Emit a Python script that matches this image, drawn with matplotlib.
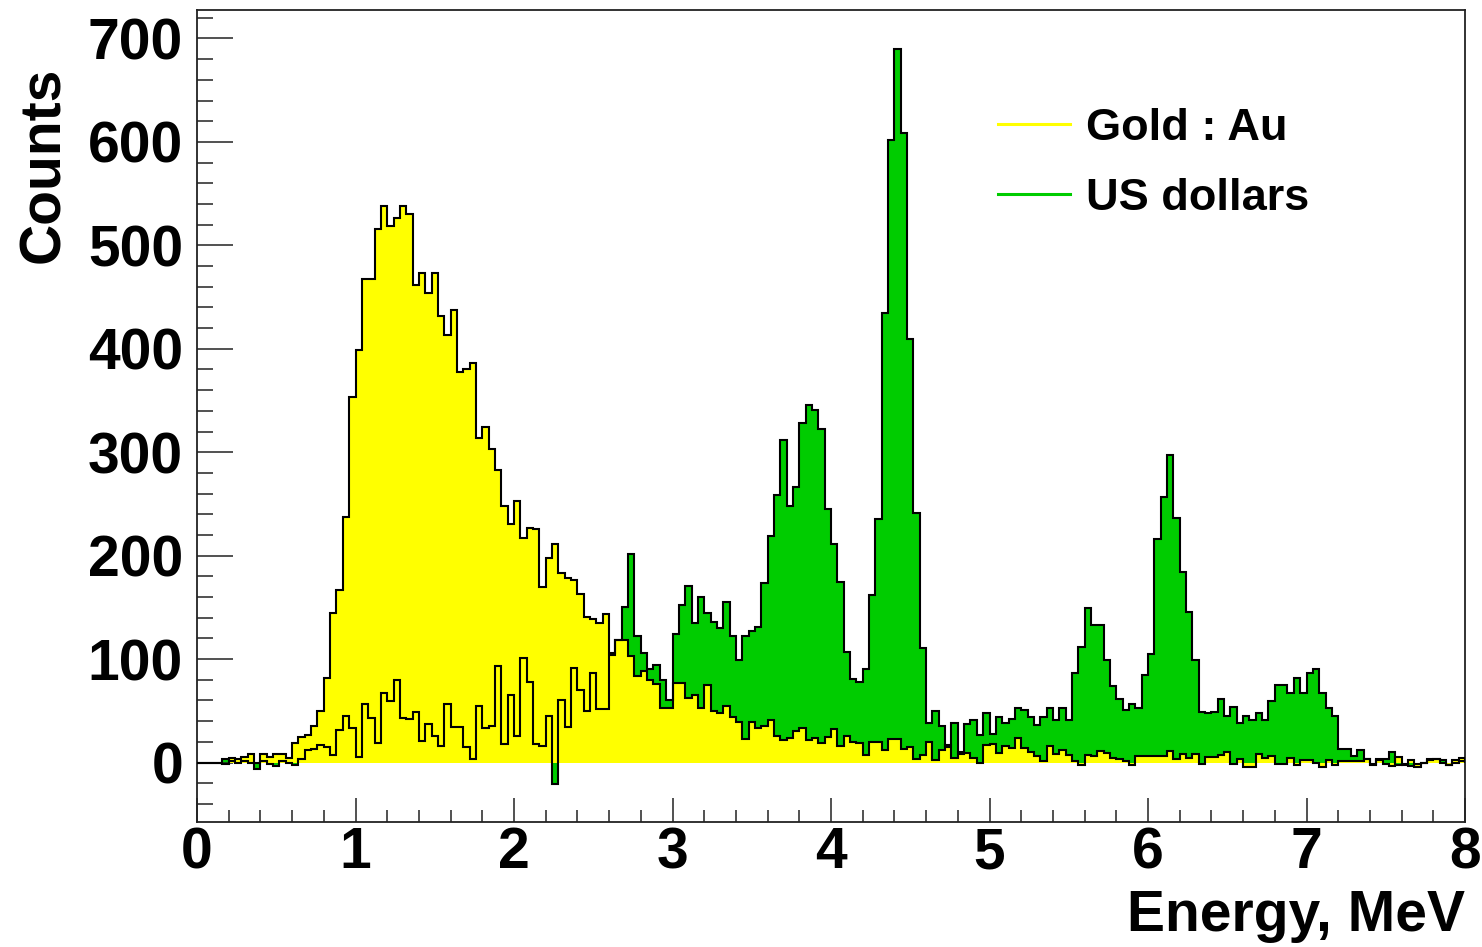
import numpy as np
import matplotlib.pyplot as plt
from matplotlib.lines import Line2D
from matplotlib.ticker import MultipleLocator

# Energy bins: 200 bins of 0.04 MeV between 0 and 8 MeV
bin_edges = np.linspace(0, 8, 201)

# Counts per bin for gold
gold_counts = [
    0, 0, 0, 0, -1, 4, 3, 5, 8, 0,
    8, 5, 8, 8, 4, 19, 25, 27, 35, 50,
    82, 145, 167, 237, 353, 399, 467, 467, 516, 538,
    519, 526, 538, 530, 462, 473, 454, 473, 432, 413,
    437, 378, 380, 386, 314, 324, 303, 283, 248, 231,
    253, 217, 227, 226, 170, 198, 211, 183, 178, 176,
    163, 141, 139, 135, 144, 106, 118, 118, 103, 84,
    88, 80, 76, 53, 53, 77, 77, 62, 65, 53,
    75, 50, 48, 55, 44, 39, 23, 39, 33, 35,
    41, 26, 22, 24, 30, 33, 22, 24, 19, 25,
    32, 16, 26, 20, 19, 7, 20, 20, 12, 23,
    23, 13, 15, 3, 7, 20, 2, 12, 17, 4,
    10, 9, 4, 0, 17, 18, 9, 16, 14, 24,
    14, 10, 6, 1, 16, 8, 12, 7, 1, -2,
    7, 6, 11, 9, 4, 3, 1, -2, 6, 6,
    6, 6, 6, 11, 3, 8, 4, 8, -1, 5,
    5, 7, 10, -1, 3, -4, -4, 8, 4, 6,
    -1, -1, 4, -2, 2, 2, 0, -4, 2, -2,
    1, 1, 1, 1, 3, -2, 2, -1, -3, 5,
    -2, 2, -4, 0, 3, 3, 0, -2, 2, 4,
]

# Counts per bin for US dollars
dollar_counts = [
    0, 0, 0, 0, 3, 1, 0, 1, 0, -6,
    1, -1, -3, 1, 0, -2, 3, 12, 13, 17,
    15, 7, 31, 45, 33, 5, 57, 43, 19, 67,
    59, 80, 43, 42, 49, 21, 37, 26, 16, 57,
    34, 34, 15, 3, 55, 33, 35, 93, 18, 65,
    26, 101, 78, 18, 16, 45, -21, 60, 34, 91,
    70, 50, 87, 52, 52, 104, 118, 150, 202, 122,
    106, 90, 94, 80, 60, 124, 152, 171, 135, 160,
    145, 136, 130, 155, 122, 99, 122, 127, 131, 174,
    219, 259, 312, 248, 266, 328, 346, 341, 322, 245,
    211, 175, 107, 81, 78, 90, 162, 235, 435, 602,
    690, 609, 409, 241, 111, 38, 50, 35, 15, 38,
    8, 37, 41, 27, 48, 28, 44, 38, 42, 53,
    51, 44, 36, 44, 53, 41, 53, 41, 87, 112,
    149, 133, 133, 99, 74, 61, 51, 57, 53, 85,
    105, 216, 257, 297, 236, 184, 146, 99, 49, 48,
    49, 61, 45, 54, 38, 45, 41, 48, 41, 59,
    75, 75, 67, 82, 67, 87, 90, 67, 53, 45,
    13, 13, 6, 12, 3, -1, 3, 3, 10, -2,
    -1, -3, -1, 0, 2, 3, 2, -2, 0, 1,
]

labels = ['Gold : Au', 'US dollars']
gold_color = '#ffff00'
dollar_color = '#00cc00'

plt.rcParams['font.family'] = ['Liberation Sans', 'DejaVu Sans']
plt.rcParams['font.weight'] = 'bold'

fig = plt.figure(figsize=(14.82, 9.47), dpi=100)
ax = fig.add_axes([197 / 1482, 1 - 822 / 947, 1268 / 1482, 812 / 947])

# fills first (dollars under gold), outlines on top of both
ax.stairs(dollar_counts, bin_edges, fill=True, color=dollar_color, zorder=1)
ax.stairs(gold_counts, bin_edges, fill=True, color=gold_color, zorder=2)
ax.stairs(dollar_counts, bin_edges, color='black', linewidth=1.5, zorder=3)
ax.stairs(gold_counts, bin_edges, color='black', linewidth=1.5, zorder=3)

ax.set_xlim(0, 8)
ax.set_ylim(-57.5, 727.5)

ax.xaxis.set_major_locator(MultipleLocator(1))
ax.xaxis.set_minor_locator(MultipleLocator(0.2))
ax.yaxis.set_major_locator(MultipleLocator(100))
ax.yaxis.set_minor_locator(MultipleLocator(20))
ax.tick_params(axis='both', which='both', direction='in', width=1.1,
               colors='#222222', labelcolor='black', labelsize=41)
ax.tick_params(axis='y', which='major', length=26, pad=10)
ax.tick_params(axis='y', which='minor', length=11.5)
ax.tick_params(axis='x', which='major', length=17, pad=3)
ax.tick_params(axis='x', which='minor', length=8.5)
for lab in ax.get_xticklabels() + ax.get_yticklabels():
    lab.set_fontweight('bold')
for side in ['left', 'right', 'top', 'bottom']:
    ax.spines[side].set_linewidth(1.3)
    ax.spines[side].set_color('#222222')

# axis titles, ROOT style
fig.text(44 / 1482, 1 - 165 / 947, 'Counts', rotation=90, ha='center',
         va='center', fontsize=41, fontweight='bold')
fig.text(1465 / 1482, 1 - 931 / 947, 'Energy, MeV', ha='right',
         va='baseline', fontsize=41, fontweight='bold')

handles = [Line2D([], [], color=gold_color, linewidth=2.2),
           Line2D([], [], color=dollar_color, linewidth=2.2)]
ax.legend(handles, labels, loc='upper left', frameon=False,
          bbox_to_anchor=(998 / 1482, 1 - 108 / 947),
          bbox_transform=fig.transFigure, borderpad=0,
          borderaxespad=0, handlelength=1.6, handletextpad=0.36,
          labelspacing=0.64, prop={'weight': 'bold', 'size': 32.5})

fig.savefig('out.png', dpi=100)
